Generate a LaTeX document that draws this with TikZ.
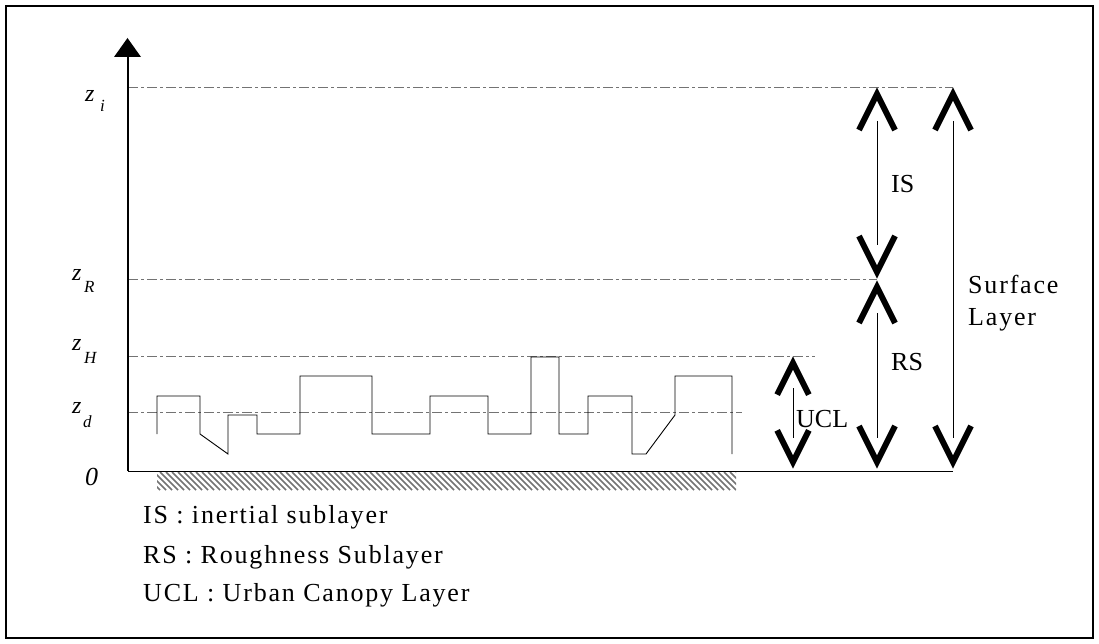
\documentclass[tikz,border=0pt]{standalone}
\usepackage{fontspec}
\setmainfont{Liberation Serif}
\newfontfamily\spacedfont[LetterSpace=7]{Liberation Serif}
\begin{document}
\begin{tikzpicture}[x=1pt,y=-1pt,
  level/.style={draw=black!55, line width=0.9pt, dash pattern=on 10pt off 3pt on 3pt off 3pt},
  ground/.style={draw=black, line width=1pt},
  bldg/.style={draw=black, line width=0.9pt, line join=miter},
  shaft/.style={draw=black, line width=0.9pt},
  chevup/.pic={\draw[line width=6pt, line join=miter, line cap=butt] (-18,36) -- (0,0) -- (18,36);},
  chevdown/.pic={\draw[line width=6pt, line join=miter, line cap=butt] (-18,-36) -- (0,0) -- (18,-36);},
  lbl/.style={font=\fontsize{26}{30}\selectfont, inner sep=0pt, anchor=base west},
  zlbl/.style={font=\fontsize{24}{28}\selectfont\itshape, inner sep=0pt, anchor=base west},
  sublbl/.style={font=\fontsize{17}{20}\selectfont\itshape, inner sep=0pt, anchor=base west},
  legend/.style={font=\fontsize{26}{30}\selectfont\spacedfont, inner sep=0pt, anchor=base west}]
\useasboundingbox (0,0) rectangle (1099,644);
\draw[line width=1.2pt] (6,6) rectangle (1093,638);

% hatched ground
\begin{scope}
\clip (157,472) rectangle (736,490);
\foreach \i in {0,...,105} {
  \draw[black!55, line width=1.6pt] ({136+6*\i},472) -- ({154+6*\i},490);
}
\end{scope}

% level lines
\coordinate (axbase) at (128,471);
\coordinate (axtop) at (128,56);
\draw[level] (128,87) -- (953,87);
\draw[level] (128,279) -- (877,279);
\draw[level] (128,356) -- (815,356);
\draw[level] (128,412) -- (742,412);

% axis and baseline
\coordinate (gend) at (953,471);
\draw[ground] (axbase) -- (gend);
\draw[line width=1.3pt] (axbase) -- (axtop);
\fill (114,57) -- (141,57) -- (127.5,38) -- cycle;

% buildings
\draw[bldg] (157,434) -- (157,396) -- (200,396) -- (200,434) -- (228,454) -- (228,415) -- (257,415) -- (257,434) -- (300,434) -- (300,376) -- (372,376) -- (372,434) -- (430,434) -- (430,396) -- (488,396) -- (488,434) -- (531,434) -- (531,357) -- (559,357) -- (559,434) -- (588,434) -- (588,396) -- (632,396) -- (632,454) -- (646,454) -- (675,415) -- (675,376) -- (732,376) -- (732,454);

% arrows
\coordinate (isT) at (877,121); \coordinate (isB) at (877,245);
\coordinate (rsT) at (877,313); \coordinate (rsB) at (877,438);
\coordinate (slT) at (953,121); \coordinate (slB) at (953,438);
\coordinate (uclT) at (793,388); \coordinate (uclB) at (793,438);
\draw[shaft] (isT) -- (isB);
\draw[shaft] (rsT) -- (rsB);
\draw[shaft] (slT) -- (slB);
\draw[shaft] (uclT) -- (uclB);
\pic at (877,94) {chevup};
\pic at (877,272) {chevdown};
\pic at (877,287) {chevup};
\pic at (877,462) {chevdown};
\pic at (953,94) {chevup};
\pic at (953,462) {chevdown};
\pic[scale=0.88] at (793,363) {chevup};
\pic[scale=0.88] at (793,462) {chevdown};

% labels on arrows
\node[lbl] (tIS) at (891,193) {IS};
\node[lbl] (tRS) at (891,370) {RS};
\node[lbl] (tUCL) at (796,427) {UCL};
\node[legend] (tSurf) at (968,293) {Surface};
\node[legend] (tLay) at (968,325) {Layer};

% axis labels
\node[zlbl] (zi) at (85,102) {z};
\node[sublbl] (zis) at (100,112) {i};
\node[zlbl] (zR) at (72,280) {z};
\node[sublbl] (zRs) at (84,292) {R};
\node[zlbl] (zH) at (72,350) {z};
\node[sublbl] (zHs) at (84,363) {H};
\node[zlbl] (zd) at (72,413) {z};
\node[sublbl] (zds) at (83,427) {d};
\node[font=\fontsize{26}{30}\selectfont\itshape, inner sep=0pt, anchor=base west] (zero) at (85,485) {0};

% legend
\node[legend] (l1) at (143,523) {IS : inertial sublayer};
\node[legend] (l2) at (143,563) {RS : Roughness Sublayer};
\node[legend] (l3) at (143,601) {UCL : Urban Canopy Layer};
\end{tikzpicture}
\end{document}
